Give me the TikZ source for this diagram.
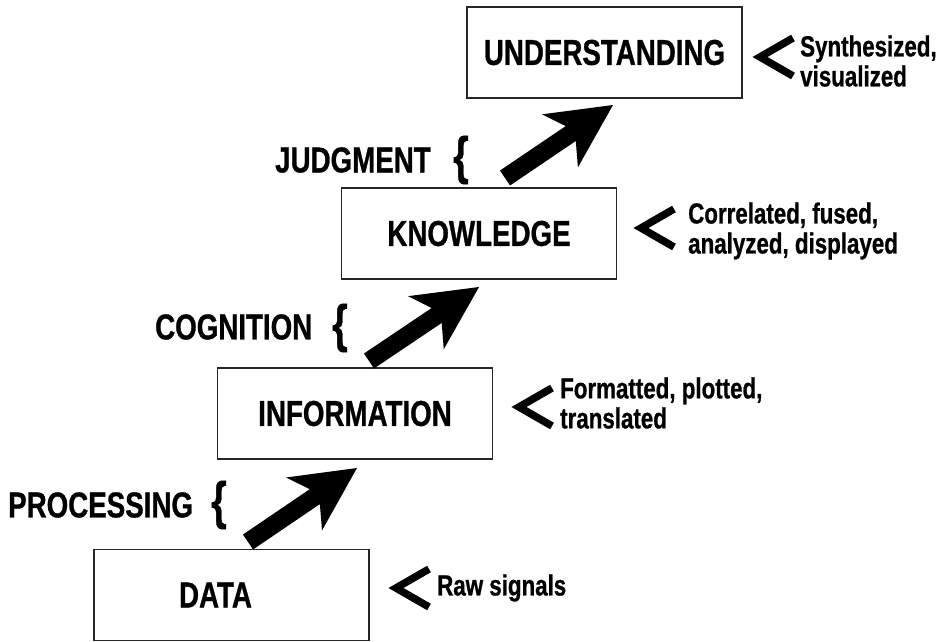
\documentclass[tikz,border=0pt]{standalone}
\usepackage{fontspec}
\setmainfont{Liberation Sans}[FakeStretch=0.77, BoldFeatures={FakeBold=0.8}]
\usetikzlibrary{calc}
\tikzset{
  box/.style={draw=black!85, line width=1.4pt, minimum width=275pt, minimum height=91pt,
    inner sep=0pt, font=\fontsize{36}{40}\selectfont\bfseries},
  lbl/.style={anchor=west, inner sep=0pt, font=\fontsize{36}{40}\selectfont\bfseries},
  side/.style={anchor=west, inner sep=0pt, align=left, font=\fontsize{29}{30}\selectfont\bfseries},
  brc/.style={inner sep=0pt, font=\fontsize{52}{52}\selectfont\bfseries},
  ltsign/.style={line width=7.5pt, miter limit=20},
}
\newcommand\fatarrow[2]{%
  \fill ($(#1)!9pt!90:(#2)$)
    -- ($(#2)!51pt!(#1)!9pt!90:(#2)$)
    -- ($(#2)!64pt!(#1)!32pt!90:(#2)$)
    -- (#2)
    -- ($(#2)!64pt!(#1)!32pt!-90:(#2)$)
    -- ($(#2)!51pt!(#1)!9pt!-90:(#2)$)
    -- ($(#1)!9pt!-90:(#2)$) -- cycle;}
\newcommand\ltmark[1]{%
  \draw[ltsign] ($(#1)+(33,-19)$) -- (#1) -- ($(#1)+(33,19)$);}
\begin{document}
\begin{tikzpicture}[x=1pt,y=-1pt]
\useasboundingbox (0,0) rectangle (948,642);
% boxes
\node[box] (data)  at (231.5,595)  {\hspace*{-32pt}DATA};
\node[box] (info)  at (355,413.5)  {INFORMATION};
\node[box] (know)  at (479,233.5)  {KNOWLEDGE};
\node[box] (under) at (604.5,52.5) {UNDERSTANDING};
% left labels and braces
\node[lbl] (proc) at (8,505) {PROCESSING};
\node[brc] (b1) at (219,505) {\{};
\node[lbl] (cogn) at (155,327) {COGNITION};
\node[brc] (b2) at (340,328) {\{};
\node[lbl] (judg) at (275,160) {JUDGMENT};
\node[brc] (b3) at (461,160) {\{};
% fat arrows
\coordinate (a1s) at (248,542); \coordinate (a1e) at (357,468);
\coordinate (a2s) at (369,361); \coordinate (a2e) at (479,287);
\coordinate (a3s) at (505,178); \coordinate (a3e) at (613,105);
\fatarrow{a1s}{a1e}
\fatarrow{a2s}{a2e}
\fatarrow{a3s}{a3e}
% less-than signs
\coordinate (l1) at (396,588);
\coordinate (l2) at (519,407);
\coordinate (l3) at (641,228);
\coordinate (l4) at (760,57);
\ltmark{l1}\ltmark{l2}\ltmark{l3}\ltmark{l4}
% side texts
\node[side] (s1) at (437,588) {Raw signals};
\node[side] (s2) at (560,403) {Formatted, plotted,\\translated};
\node[side] (s3) at (688,231) {Correlated, fused,\\analyzed, displayed};
\node[side] (s4) at (800,61) {Synthesized,\\visualized};
\end{tikzpicture}
\end{document}
